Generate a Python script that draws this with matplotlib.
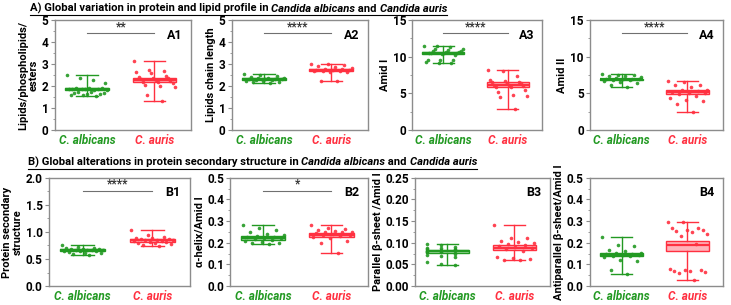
import numpy as np
import matplotlib
matplotlib.use('Agg')
from matplotlib import pyplot as plt
from matplotlib.lines import Line2D

plt.rcParams['font.family'] = ['Roboto', 'DejaVu Sans']
plt.rcParams['font.weight'] = 'bold'
plt.rcParams['axes.labelweight'] = 'bold'

# colours
GREEN = '#229922'
GREEN_FILL = '#9fd89f'
RED = '#ff3040'
RED_FILL = '#ffb3ba'
FRAME = '#8c8c8c'

groups = ['C. albicans', 'C. auris']

# box stats per panel: [min, q1, median, q3, max]
a1_alb_stats = [1.55, 1.80, 1.86, 1.90, 2.50]
a1_aur_stats = [1.30, 2.17, 2.28, 2.37, 3.12]
a1_alb = [2.5, 2.35, 2.28, 2.12, 1.92, 1.9, 1.9, 1.88, 1.87, 1.86, 1.85, 1.85, 1.83, 1.8, 1.75, 1.72, 1.7, 1.68, 1.65, 1.62, 1.6, 1.58, 1.55]
a1_aur = [3.12, 2.75, 2.7, 2.62, 2.6, 2.45, 2.4, 2.38, 2.35, 2.3, 2.28, 2.25, 2.2, 2.18, 2.12, 2.05, 2.0, 1.95, 1.6, 1.3]

a2_alb_stats = [2.15, 2.27, 2.32, 2.36, 2.55]
a2_aur_stats = [2.25, 2.68, 2.73, 2.78, 3.00]
a2_alb = [2.55, 2.5, 2.45, 2.4, 2.38, 2.36, 2.35, 2.34, 2.33, 2.32, 2.3, 2.28, 2.26, 2.25, 2.22, 2.2, 2.18, 2.15]
a2_aur = [3.0, 2.98, 2.95, 2.92, 2.85, 2.82, 2.78, 2.76, 2.75, 2.74, 2.72, 2.7, 2.7, 2.68, 2.65, 2.62, 2.25, 2.25]

a3_alb_stats = [9.1, 10.35, 10.5, 10.7, 11.5]
a3_aur_stats = [2.9, 5.8, 6.1, 6.5, 8.2]
a3_alb = [11.5, 11.4, 11.3, 11.1, 11.0, 10.9, 10.8, 10.75, 10.7, 10.6, 10.55, 10.5, 10.5, 10.45, 10.4, 10.3, 9.6, 9.5, 9.5, 9.3, 9.2, 9.1]
a3_aur = [8.2, 8.1, 7.3, 6.8, 6.7, 6.6, 6.5, 6.4, 6.35, 6.2, 6.1, 6.0, 5.9, 5.8, 5.5, 5.2, 4.8, 4.6, 4.5, 2.9]

a4_alb_stats = [5.8, 6.8, 6.9, 7.0, 7.6]
a4_aur_stats = [2.4, 4.95, 5.2, 5.45, 6.7]
a4_alb = [7.6, 7.55, 7.45, 7.4, 7.3, 7.2, 7.1, 7.0, 6.95, 6.9, 6.9, 6.85, 6.8, 6.7, 6.5, 6.4, 6.1, 5.8]
a4_aur = [6.7, 6.6, 6.2, 6.1, 5.9, 5.5, 5.4, 5.3, 5.2, 5.1, 5.0, 4.9, 4.6, 4.4, 4.1, 3.9, 3.6, 2.4]

b1_alb_stats = [0.58, 0.64, 0.66, 0.68, 0.75]
b1_aur_stats = [0.74, 0.82, 0.85, 0.87, 1.03]
b1_alb = [0.75, 0.72, 0.71, 0.7, 0.69, 0.68, 0.68, 0.67, 0.67, 0.66, 0.66, 0.65, 0.65, 0.64, 0.63, 0.62, 0.61, 0.6, 0.58]
b1_aur = [1.03, 0.95, 0.9, 0.89, 0.88, 0.87, 0.87, 0.86, 0.85, 0.85, 0.84, 0.83, 0.82, 0.81, 0.8, 0.79, 0.78, 0.76, 0.74]

b2_alb_stats = [0.195, 0.215, 0.222, 0.230, 0.283]
b2_aur_stats = [0.155, 0.228, 0.237, 0.245, 0.280]
b2_alb = [0.283, 0.27, 0.26, 0.25, 0.24, 0.235, 0.23, 0.228, 0.225, 0.222, 0.22, 0.218, 0.215, 0.21, 0.205, 0.2, 0.198, 0.195]
b2_aur = [0.28, 0.27, 0.262, 0.258, 0.255, 0.252, 0.25, 0.248, 0.245, 0.24, 0.237, 0.235, 0.23, 0.228, 0.22, 0.21, 0.2, 0.155]

b3_alb_stats = [0.048, 0.077, 0.080, 0.083, 0.098]
b3_aur_stats = [0.060, 0.083, 0.088, 0.095, 0.142]
b3_alb = [0.098, 0.095, 0.09, 0.088, 0.087, 0.086, 0.085, 0.084, 0.083, 0.082, 0.081, 0.08, 0.079, 0.078, 0.075, 0.072, 0.07, 0.068, 0.055, 0.05, 0.048]
b3_aur = [0.142, 0.112, 0.11, 0.105, 0.102, 0.1, 0.098, 0.095, 0.092, 0.09, 0.088, 0.085, 0.08, 0.068, 0.065, 0.062, 0.061, 0.06]

b4_alb_stats = [0.058, 0.138, 0.145, 0.155, 0.225]
b4_aur_stats = [0.028, 0.163, 0.188, 0.210, 0.298]
b4_alb = [0.225, 0.19, 0.185, 0.165, 0.16, 0.155, 0.152, 0.15, 0.148, 0.145, 0.142, 0.14, 0.138, 0.135, 0.12, 0.115, 0.075, 0.058]
b4_aur = [0.298, 0.295, 0.27, 0.268, 0.26, 0.258, 0.255, 0.25, 0.24, 0.23, 0.195, 0.08, 0.075, 0.072, 0.07, 0.068, 0.065, 0.06, 0.028]

# panel: (rect, label, ylabel, ylim, major, minor, sig, stats, points)
panels = [
    ([0.075, 0.574, 0.186, 0.36], 'A1', 'Lipids/phospholipids/\nesters', 5, 1, 0.5, '**',
     (a1_alb_stats, a1_aur_stats), (a1_alb, a1_aur)),
    ([0.317, 0.574, 0.186, 0.36], 'A2', 'Lipids chain length', 5, 1, 0.5, '****',
     (a2_alb_stats, a2_aur_stats), (a2_alb, a2_aur)),
    ([0.564, 0.574, 0.178, 0.36], 'A3', 'Amid I', 15, 5, 2.5, '****',
     (a3_alb_stats, a3_aur_stats), (a3_alb, a3_aur)),
    ([0.807, 0.574, 0.182, 0.36], 'A4', 'Amid II', 15, 5, 2.5, '****',
     (a4_alb_stats, a4_aur_stats), (a4_alb, a4_aur)),
    ([0.067, 0.062, 0.193, 0.355], 'B1', 'Protein secondary\nstructure', 2.0, 0.5, 0.25, '****',
     (b1_alb_stats, b1_aur_stats), (b1_alb, b1_aur)),
    ([0.315, 0.062, 0.189, 0.355], 'B2', 'α-helix/Amid I', 0.5, 0.1, 0.05, '*',
     (b2_alb_stats, b2_aur_stats), (b2_alb, b2_aur)),
    ([0.568, 0.062, 0.185, 0.355], 'B3', 'Parallel β-sheet /Amid I', 0.25, 0.05, 0.025, None,
     (b3_alb_stats, b3_aur_stats), (b3_alb, b3_aur)),
    ([0.807, 0.062, 0.182, 0.355], 'B4', 'Antiparallel β-sheet/Amid I', 0.5, 0.1, 0.05, None,
     (b4_alb_stats, b4_aur_stats), (b4_alb, b4_aur)),
]

fmt = {5: '%d', 15: '%d', 2.0: '%.1f', 0.5: '%.1f', 0.25: '%.2f'}

fig = plt.figure(figsize=(7.31, 3.05), dpi=100)

for rect, lab, ylab, ymax, major, minor, sig, stats, pts in panels:
    ax = fig.add_axes(rect)
    bstats = []
    for s in stats:
        bstats.append(dict(whislo=s[0], q1=s[1], med=s[2], q3=s[3], whishi=s[4], fliers=[]))
    bp = ax.bxp(bstats, positions=[1, 2], widths=0.65, capwidths=0.32, patch_artist=True,
                showfliers=False)
    for i, (fc, ec) in enumerate([(GREEN_FILL, GREEN), (RED_FILL, RED)]):
        bp['boxes'][i].set(facecolor=fc, edgecolor=ec, linewidth=1.0)
        bp['medians'][i].set(color=ec, linewidth=1.6)
        for w in bp['whiskers'][2 * i:2 * i + 2] + bp['caps'][2 * i:2 * i + 2]:
            w.set(color=ec, linewidth=1.0)
    # jittered points across the box
    for i, (vals, c) in enumerate(zip(pts, [GREEN, RED])):
        n = len(vals)
        offs = np.linspace(-0.3, 0.3, n)[(np.arange(n) * 7) % n]
        ax.plot(i + 1 + offs, vals, 'o', ms=2.6, color=c, mec='none', alpha=0.9)

    ax.set_xlim(0.52, 2.54)
    ax.set_ylim(0, ymax)
    ax.set_yticks(np.arange(0, ymax + major / 2, major))
    ax.set_yticks(np.arange(0, ymax + minor / 2, minor), minor=True)
    ax.yaxis.set_major_formatter(matplotlib.ticker.FormatStrFormatter(fmt[ymax]))
    ax.tick_params(axis='y', which='major', length=3, width=0.8, color=FRAME, labelsize=8.5, pad=1.5)
    ax.tick_params(axis='y', which='minor', length=1.5, width=0.6, color=FRAME)
    ax.tick_params(axis='x', length=0, labelsize=8.5, pad=3)
    ax.set_xticks([1, 2])
    ax.set_xticklabels(groups, fontstyle='italic', fontweight='bold')
    ax.get_xticklabels()[0].set_color(GREEN)
    ax.get_xticklabels()[1].set_color(RED)
    for sp in ax.spines.values():
        sp.set_color(FRAME)
        sp.set_linewidth(1.0)
    ax.set_ylabel(ylab, fontsize=8, labelpad=2, linespacing=1.1)
    ax.text(0.88, 0.86, lab, transform=ax.transAxes, ha='center', va='center', fontsize=9)
    if sig:
        yl = 0.88 * ymax
        ax.plot([1, 2], [yl, yl], color='#707070', lw=0.8)
        ax.text(1.5, yl, sig, ha='center', va='bottom', fontsize=8.5, color='#333333')


def underlined_title(parts, x, y):
    # draw text pieces one after the other, then underline the whole run
    fig.canvas.draw()
    r = fig.canvas.get_renderer()
    cur = x
    x0 = None
    for s, style in parts:
        t = fig.text(cur, y, s, fontsize=8.1, fontweight='bold', fontstyle=style,
                     va='baseline', ha='left')
        bb = t.get_window_extent(r).transformed(fig.transFigure.inverted())
        if x0 is None:
            x0 = bb.x0
        cur = bb.x1
    fig.add_artist(Line2D([x0, cur], [y - 0.012, y - 0.012], color='black', lw=0.8,
                          transform=fig.transFigure))


underlined_title([('A) Global variation in protein and lipid profile in ', 'normal'),
                  ('Candida albicans', 'italic'), (' and ', 'normal'),
                  ('Candida auris', 'italic')], 0.041, 0.962)
underlined_title([('B) Global alterations in protein secondary structure in ', 'normal'),
                  ('Candida albicans', 'italic'), (' and ', 'normal'),
                  ('Candida auris', 'italic')], 0.038, 0.458)

fig.savefig('out.png', dpi=100)
